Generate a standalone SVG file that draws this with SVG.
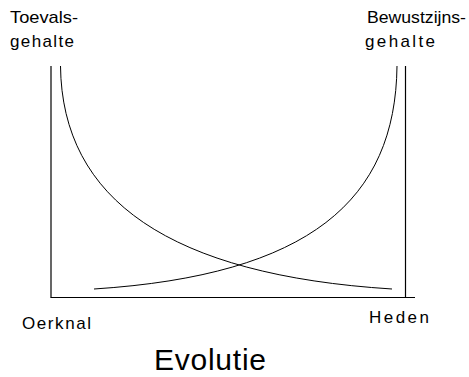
<svg xmlns="http://www.w3.org/2000/svg" width="469" height="377" viewBox="0 0 469 377">
<style>
.lbl{font-family:"Liberation Sans",Arial,sans-serif;font-size:17px;fill:#000}
.big{font-family:"Liberation Sans",Arial,sans-serif;font-size:30px;fill:#000}
.ax{stroke:#000;stroke-width:1.2;fill:none}
.cv{stroke:#000;stroke-width:1;fill:none}
</style>
<rect width="469" height="377" fill="#fff"/>
<g id="connectors">
<path id="axis-left" class="ax" d="M51,66 V297.5"/>
<path id="axis-bottom" class="ax" d="M50.5,297.5 H415"/>
<path id="axis-right" class="ax" d="M405.5,66 V297.5"/>
<path id="curve-toeval" class="cv" d="M60.5,66 C62,200 170,275 392,289"/>
<path id="curve-bewustzijn" class="cv" d="M397,66 C395.5,200 310,275 94,289"/>
</g>
<g id="label-toeval">
<text class="lbl" x="10" y="23" textLength="68" lengthAdjust="spacingAndGlyphs">Toevals-</text>
<text class="lbl" x="10" y="47" textLength="64" lengthAdjust="spacing">gehalte</text>
</g>
<g id="label-bewustzijn">
<text class="lbl" x="367" y="23" textLength="99" lengthAdjust="spacingAndGlyphs">Bewustzijns-</text>
<text class="lbl" x="365" y="47" textLength="70" lengthAdjust="spacing">gehalte</text>
</g>
<g id="label-oerknal">
<text class="lbl" x="22" y="329" textLength="69" lengthAdjust="spacing">Oerknal</text>
</g>
<g id="label-heden">
<text class="lbl" x="369" y="323" textLength="60" lengthAdjust="spacing">Heden</text>
</g>
<g id="label-evolutie">
<text class="big" x="154" y="370" textLength="112" lengthAdjust="spacing">Evolutie</text>
</g>
</svg>
